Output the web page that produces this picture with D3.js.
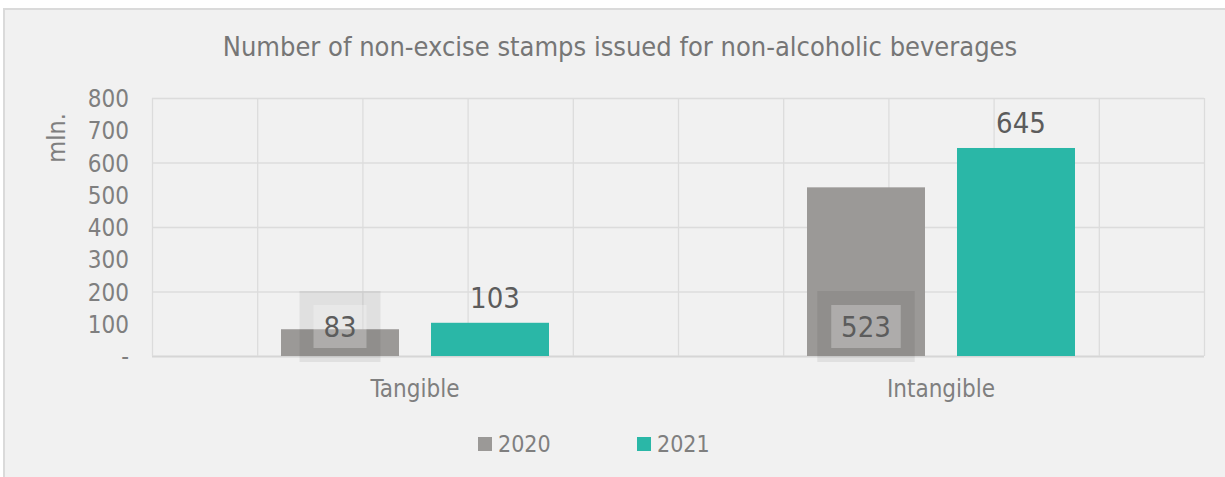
<!DOCTYPE html>
<html>
<head>
<meta charset="utf-8">
<script src="https://cdn.jsdelivr.net/npm/d3@7"></script>
<style>
  html, body { margin: 0; padding: 0; background: #ffffff; }
  svg { display: block; }
  text { font-family: "DejaVu Sans Condensed", "DejaVu Sans", sans-serif; }
</style>
</head>
<body>
<svg id="chart" width="1225" height="477"></svg>
<script>
const title = "Number of non-excise stamps issued for non-alcoholic beverages";
const yAxisTitle = "mln.";
const categories = ["Tangible", "Intangible"];
const series = ["2020", "2021"];
const values2020 = [83, 523];
const values2021 = [103, 645];
const yTicks = [0, 100, 200, 300, 400, 500, 600, 700, 800];
const yTickLabels = ["-", "100", "200", "300", "400", "500", "600", "700", "800"];
const yGridValues = [0, 200, 400, 600, 800];
const xGridCount = 10;
const colors = { "2020": "#9b9997", "2021": "#2ab7a7" };

const svg = d3.select("#chart");
const W = 1225, H = 477;
const plot = { left: 152, right: 1204, top: 98, bottom: 356 };

// frame
svg.append("rect").attr("x", 4).attr("y", 9).attr("width", W + 10).attr("height", H + 10)
  .attr("fill", "#f1f1f1").attr("stroke", "#dadada").attr("stroke-width", 2);

const y = d3.scaleLinear().domain([0, 800]).range([plot.bottom, plot.top]);
const x0 = d3.scaleBand().domain(categories).range([plot.left, plot.right]);
const x1 = d3.scaleBand().domain(series).range([0, x0.bandwidth()])
  .paddingInner(32 / 150).paddingOuter(0.86);
const xg = d3.scaleLinear().domain([0, xGridCount]).range([plot.left, plot.right]);

// gridlines
const grid = svg.append("g");
grid.selectAll("line.h").data(yGridValues).join("line")
  .attr("x1", plot.left).attr("x2", plot.right)
  .attr("y1", d => y(d) + 0.5).attr("y2", d => y(d) + 0.5)
  .attr("stroke", d => d === 0 ? "#d6d6d6" : "#dcdcdc").attr("stroke-width", d => d === 0 ? 2 : 1.3);
grid.selectAll("line.v").data(d3.range(xGridCount + 1)).join("line")
  .attr("x1", d => xg(d) + 0.5).attr("x2", d => xg(d) + 0.5)
  .attr("y1", plot.top).attr("y2", plot.bottom)
  .attr("stroke", "#dcdcdc").attr("stroke-width", 1.3);

// y axis labels
const yAxis = d3.axisLeft(y).tickValues(yTicks).tickSize(0).tickPadding(0)
  .tickFormat((d, i) => yTickLabels[i]);
const gy = svg.append("g").attr("transform", `translate(129,0)`).call(yAxis);
gy.select(".domain").remove();
gy.selectAll("text").attr("fill", "#7f7f7f").attr("font-size", 24)
  .attr("font-family", '"DejaVu Sans Condensed", "DejaVu Sans", sans-serif')
  .attr("dy", "0.36em");

// y title
svg.append("text").attr("transform", "translate(65,138) rotate(-90)")
  .attr("text-anchor", "middle").attr("fill", "#7f7f7f").attr("font-size", 25)
  .text(yAxisTitle);

// title
svg.append("text").attr("x", 620).attr("y", 56).attr("text-anchor", "middle")
  .attr("fill", "#767676").attr("font-size", 27).text(title);

// bars
const data = categories.map((c, i) => ({ cat: c, vals: [
  { s: "2020", v: values2020[i] }, { s: "2021", v: values2021[i] } ] }));
const groups = svg.append("g").selectAll("g").data(data).join("g")
  .attr("transform", d => `translate(${x0(d.cat)},0)`);
groups.selectAll("rect").data(d => d.vals).join("rect")
  .attr("x", d => x1(d.s)).attr("width", x1.bandwidth())
  .attr("y", d => y(d.v)).attr("height", d => y(0) - y(d.v))
  .attr("fill", d => colors[d.s]);

// labels 2020 (inside base, with boxes) and 2021 (outside end)
groups.each(function(d) {
  const g = d3.select(this);
  const v0 = d.vals[0], v1 = d.vals[1];
  const cx0 = x1(v0.s) + x1.bandwidth() / 2;
  const txt = String(v0.v);
  const tw = txt.length * 16.5 + 20;
  const by = y(0) - 19;
  g.append("rect").attr("x", cx0 - tw / 2 - 14).attr("y", by - 46)
    .attr("width", tw + 28).attr("height", 71).attr("fill", "rgba(0,0,0,0.065)");
  g.append("rect").attr("x", cx0 - tw / 2).attr("y", by - 32)
    .attr("width", tw).attr("height", 43).attr("fill", "rgba(255,255,255,0.27)");
  g.append("text").attr("x", cx0).attr("y", by).attr("text-anchor", "middle")
    .attr("fill", "#5c5c5c").attr("font-size", 29).text(txt);
  const cx1 = x1(v1.s) + x1.bandwidth() / 2 + 5;
  g.append("text").attr("x", cx1).attr("y", y(v1.v) - 15).attr("text-anchor", "middle")
    .attr("fill", "#5c5c5c").attr("font-size", 29).text(String(v1.v));
});

// x labels
svg.append("g").selectAll("text").data(categories).join("text")
  .attr("x", d => x0(d) + x0.bandwidth() / 2).attr("y", 397)
  .attr("text-anchor", "middle").attr("fill", "#7f7f7f").attr("font-size", 24).text(d => d);

// legend
const legendX = [478, 637];
const lg = svg.append("g").selectAll("g").data(series).join("g")
  .attr("transform", (d, i) => `translate(${legendX[i]},437)`);
lg.append("rect").attr("width", 14).attr("height", 14).attr("fill", d => colors[d]);
lg.append("text").attr("x", 20).attr("y", 15).attr("fill", "#7f7f7f").attr("font-size", 23).text(d => d);
</script>
</body>
</html>
